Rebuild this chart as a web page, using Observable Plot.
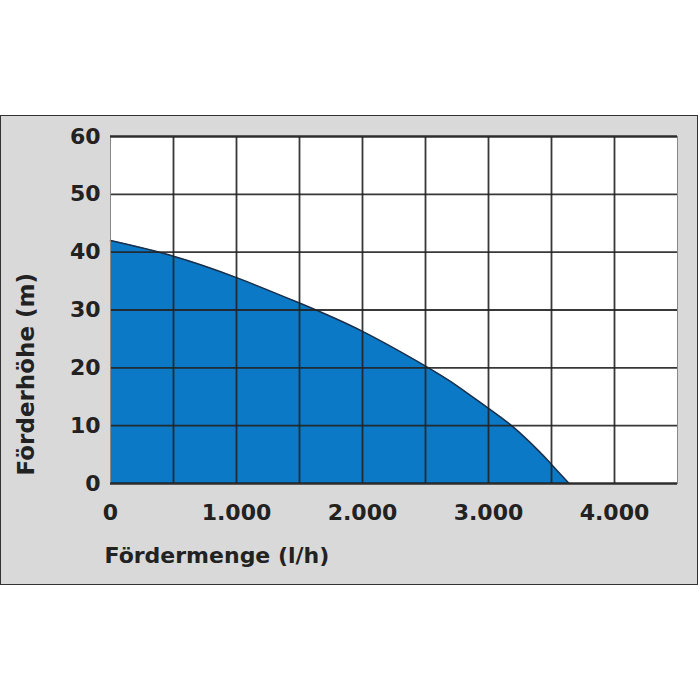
<!DOCTYPE html>
<html>
<head>
<meta charset="utf-8">
<script src="https://cdn.jsdelivr.net/npm/d3@7"></script>
<script src="https://cdn.jsdelivr.net/npm/@observablehq/plot@0.6"></script>
<style>
  html, body { margin: 0; padding: 0; background: white; }
  #wrap { position: relative; width: 700px; height: 700px; background: white; overflow: hidden; }
  #panel { position: absolute; left: 0; top: 115px; width: 696px; height: 468px; background: #d9d9d9; border: 1.5px solid #333; }
  #chart { position: absolute; left: 0; top: 0; }
</style>
</head>
<body>
<div id="wrap"><div id="panel"></div><div id="chart"></div></div>
<script>
// Data (Förderhöhe vs Fördermenge)
const flow = [0, 500, 1000, 1500, 2000, 2500, 2750, 3000, 3200, 3400, 3500, 3640];
const head = [42, 39.3, 35.6, 31.2, 26.3, 20.3, 16.9, 13.0, 9.7, 5.6, 3.3, 0];

const xTicks = [0, 1000, 2000, 3000, 4000];
const xTickLabels = ["0", "1.000", "2.000", "3.000", "4.000"];
const xGrid = [500, 1000, 1500, 2000, 2500, 3000, 3500, 4000];
const yTicks = [0, 10, 20, 30, 40, 50, 60];
const xLabel = "Fördermenge (l/h)";
const yLabel = "Förderhöhe (m)";

const data = flow.map((x, i) => ({x, y: head[i]}));
const font = "DejaVu Sans";
const fs = 22;

const chart = Plot.plot({
  width: 700,
  height: 700,
  marginLeft: 110,
  marginTop: 136,
  marginRight: 23,
  marginBottom: 217,
  style: {background: "transparent", fontFamily: font, fontSize: fs + "px", fontWeight: "bold", color: "#222"},
  x: {domain: [0, 4500], label: null},
  y: {domain: [0, 60], label: null},
  marks: [
    Plot.frame({fill: "white", stroke: "none"}),
    Plot.areaY(data, {x: "x", y: "y", fill: "#0b79c6", curve: "natural"}),
    Plot.line(data, {x: "x", y: "y", stroke: "#1b2f4a", strokeWidth: 1.5, curve: "natural"}),
    Plot.gridX(xGrid, {stroke: "#222", strokeOpacity: 0.9, strokeWidth: 1.8}),
    Plot.gridY(yTicks, {stroke: "#222", strokeOpacity: 0.9, strokeWidth: 1.8}),
    Plot.frame({stroke: "#888", strokeWidth: 1}),
    Plot.gridY([0, 60], {stroke: "#222", strokeOpacity: 0.9, strokeWidth: 1.8}),
    Plot.axisX(xTicks, {tickSize: 0, tickPadding: 21, tickFormat: (d, i) => xTickLabels[i], fontSize: fs, fontWeight: "bold", fill: "#222", label: null}),
    Plot.axisY(yTicks, {tickSize: 0, tickPadding: 10, fontSize: fs, fontWeight: "bold", fill: "#222", label: null}),
    Plot.text([xLabel], {frameAnchor: "bottom-left", text: d => d, textAnchor: "start", dx: -6, dy: 79, fontSize: fs, fontWeight: "bold", fill: "#222"}),
    Plot.text([yLabel], {frameAnchor: "bottom-left", text: d => d, textAnchor: "start", rotate: -90, dx: -77, dy: -8, fontSize: 23, fontWeight: "bold", fill: "#222"})
  ]
});
document.getElementById("chart").appendChild(chart);
</script>
</body>
</html>
